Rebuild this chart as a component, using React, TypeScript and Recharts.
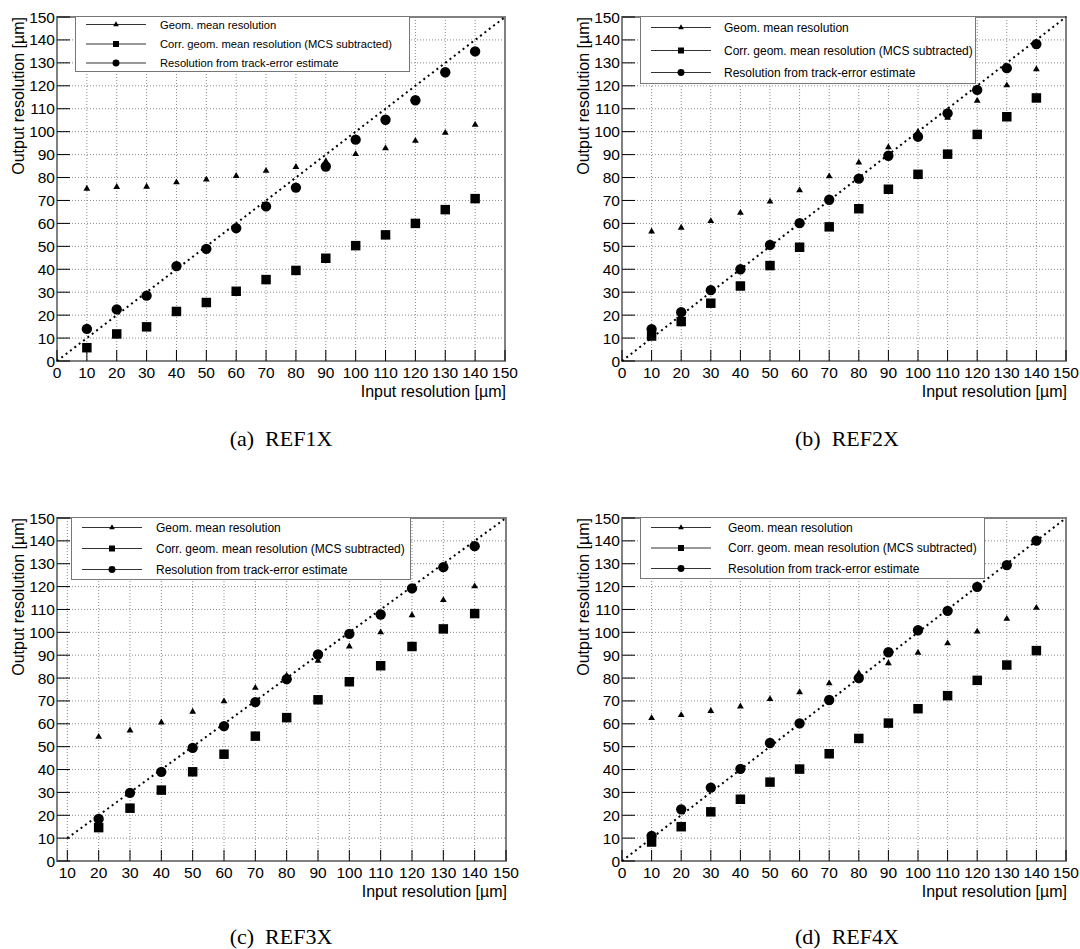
import React from 'react'
import {
  ScatterChart,
  Scatter,
  XAxis,
  YAxis,
  CartesianGrid,
  ReferenceLine,
  ReferenceArea,
  Legend,
  Label,
  Symbols,
} from 'recharts'

// input resolution values (x)
const inputAll = [10, 20, 30, 40, 50, 60, 70, 80, 90, 100, 110, 120, 130, 140]
const inputRef3 = [20, 30, 40, 50, 60, 70, 80, 90, 100, 110, 120, 130, 140]

// REF1X
const geomRef1 = [75.1, 75.9, 76.0, 77.9, 79.1, 80.7, 82.9, 84.6, 87.1, 90.2, 92.8, 96.0, 99.5, 103.0]
const corrRef1 = [5.8, 11.8, 14.9, 21.6, 25.5, 30.4, 35.5, 39.5, 44.8, 50.3, 55.0, 60.0, 66.0, 70.8]
const trackRef1 = [14.0, 22.5, 28.5, 41.4, 48.9, 57.9, 67.4, 75.6, 84.8, 96.5, 105.2, 113.7, 125.9, 135.0]

// REF2X
const geomRef2 = [56.5, 58.1, 61.0, 64.6, 69.5, 74.4, 80.5, 86.5, 93.2, 100.0, 106.1, 113.5, 120.2, 127.2]
const corrRef2 = [10.9, 17.2, 25.2, 32.7, 41.6, 49.6, 58.5, 66.4, 74.9, 81.4, 90.2, 98.8, 106.5, 114.7]
const trackRef2 = [13.9, 21.3, 30.9, 40.0, 50.6, 60.1, 70.3, 79.5, 89.5, 97.8, 108.0, 118.2, 127.7, 138.2]

// REF3X
const geomRef3 = [54.3, 57.1, 60.6, 65.3, 69.8, 75.7, 81.1, 87.6, 93.8, 100.0, 107.5, 114.1, 120.1]
const corrRef3 = [14.6, 23.1, 31.0, 39.0, 46.7, 54.6, 62.7, 70.5, 78.4, 85.4, 93.8, 101.5, 108.2]
const trackRef3 = [18.4, 29.8, 39.0, 49.5, 59.0, 69.5, 79.5, 90.3, 99.3, 107.8, 119.2, 128.5, 137.7]

// REF4X
const geomRef4 = [62.5, 63.8, 65.6, 67.6, 70.8, 73.8, 77.7, 82.1, 86.5, 91.1, 95.2, 100.3, 105.9, 110.7]
const corrRef4 = [8.3, 15.0, 21.5, 27.0, 34.5, 40.2, 46.9, 53.6, 60.3, 66.6, 72.3, 79.0, 85.7, 92.0]
const trackRef4 = [11.0, 22.6, 32.1, 40.3, 51.6, 60.2, 70.4, 80.0, 91.3, 100.9, 109.4, 119.9, 129.4, 140.1]

const xTicksAll = [0, 10, 20, 30, 40, 50, 60, 70, 80, 90, 100, 110, 120, 130, 140, 150]
const xTicksRef3 = [10, 20, 30, 40, 50, 60, 70, 80, 90, 100, 110, 120, 130, 140, 150]
const yTicks = [0, 10, 20, 30, 40, 50, 60, 70, 80, 90, 100, 110, 120, 130, 140, 150]

const legendLabels = [
  'Geom. mean resolution',
  'Corr. geom. mean resolution (MCS subtracted)',
  'Resolution from track-error estimate',
]

const SANS = '"Liberation Sans", Arial, Helvetica, sans-serif'
const AXIS_W = 40
const AXIS_H = 40
const CHART_W = 540
const CHART_H = 470

const panels = [
  {
    caption: '(a)  REF1X', x: inputAll, geom: geomRef1, corr: corrRef1, track: trackRef1,
    xTicks: xTicksAll, xMin: 0,
    ox: 0, oy: 0, left: 57, right: 505, top: 17, bottom: 361, capX: 281, capY: 439,
    legend: { dx: 18, w: 335, h: 56, rows: [9, 28.5, 47.5], font: 11.2, tx: 84 },
  },
  {
    caption: '(b)  REF2X', x: inputAll, geom: geomRef2, corr: corrRef2, track: trackRef2,
    xTicks: xTicksAll, xMin: 0,
    ox: 540, oy: 0, left: 622, right: 1066, top: 17, bottom: 361, capX: 847, capY: 439,
    legend: { dx: 17.5, w: 336, h: 68, rows: [12, 35, 57], font: 12, tx: 83 },
  },
  {
    caption: '(c)  REF3X', x: inputRef3, geom: geomRef3, corr: corrRef3, track: trackRef3,
    xTicks: xTicksRef3, xMin: 6.7,
    ox: 0, oy: 501, left: 57, right: 506, top: 518, bottom: 861, capX: 281, capY: 937,
    legend: { dx: 13.5, w: 340, h: 63, rows: [11, 32, 53], font: 12, tx: 84 },
  },
  {
    caption: '(d)  REF4X', x: inputAll, geom: geomRef4, corr: corrRef4, track: trackRef4,
    xTicks: xTicksAll, xMin: 0,
    ox: 540, oy: 501, left: 622, right: 1066, top: 518, bottom: 861, capX: 847, capY: 937,
    legend: { dx: 17.5, w: 345, h: 62, rows: [11, 31.5, 52], font: 12, tx: 87 },
  },
]

const markerTypes = ['triangle', 'square', 'circle'] as const
const markerSizes = [20, 90, 84]
const legendMarkerSizes = [14, 36, 38]

const makeShape = (i: number) => (p: any) => (
  <Symbols cx={p.cx} cy={p.cy} type={markerTypes[i]} size={markerSizes[i]} fill="#000" stroke="none" />
)

const YTick = (props: any) => {
  const { x, y, payload } = props
  return (
    <g>
      <line x1={x + 2} x2={x + 15} y1={y} y2={y} stroke="#000" strokeWidth={1} />
      <text x={x} y={y} textAnchor="end" dominantBaseline="central" fontSize={15.5} fontFamily={SANS} fill="#000">
        {payload.value}
      </text>
    </g>
  )
}

const XTick = (props: any) => {
  const { x, y, payload } = props
  return (
    <g>
      <line x1={x} x2={x} y1={y - 2} y2={y - 13} stroke="#000" strokeWidth={1} />
      <text x={x} y={y + 9} textAnchor="middle" dominantBaseline="central" fontSize={15.5} fontFamily={SANS} fill="#000">
        {payload.value}
      </text>
    </g>
  )
}

function LegendBox({ cfg }: { cfg: (typeof panels)[number]['legend'] }) {
  const { w, h, rows, font, tx } = cfg
  return (
    <div style={{ width: w, height: h, boxSizing: 'border-box', border: '1.5px solid #777', background: '#fff' }}>
      <svg width={w - 3} height={h - 3} style={{ display: 'block' }}>
        {legendLabels.map((label, i) => (
          <g key={label}>
            <line x1={10} x2={70} y1={rows[i] - 1.5} y2={rows[i] - 1.5} stroke="#333" strokeWidth={1} />
            <Symbols cx={40} cy={rows[i] - 1.5} type={markerTypes[i]} size={legendMarkerSizes[i]} fill="#000" />
            <text x={tx} y={rows[i] - 1.5} dominantBaseline="central" fontSize={font} fontFamily={SANS} fill="#000">
              {label}
            </text>
          </g>
        ))}
      </svg>
    </div>
  )
}

function Panel({ p }: { p: (typeof panels)[number] }) {
  const plotLeft = p.left - p.ox
  const plotRight = p.right - p.ox
  const plotTop = p.top - p.oy
  const plotH = p.bottom - p.top
  const margin = {
    top: plotTop,
    left: plotLeft - AXIS_W,
    right: CHART_W - plotRight,
    bottom: CHART_H - plotTop - plotH - AXIS_H,
  }
  const series = [p.geom, p.corr, p.track].map((vals) => vals.map((v, i) => ({ x: p.x[i], y: v })))

  return (
    <div style={{ position: 'absolute', left: p.ox, top: p.oy, width: CHART_W, height: CHART_H }}>
      <ScatterChart width={CHART_W} height={CHART_H} margin={margin}>
        <CartesianGrid stroke="#8a8a8a" strokeDasharray="1 2" strokeWidth={1} />
        <XAxis
          type="number"
          dataKey="x"
          domain={[p.xMin, 150]}
          ticks={p.xTicks}
          interval={0}
          allowDataOverflow
          height={AXIS_H}
          axisLine={false}
          tickLine={false}
          tickSize={0}
          tickMargin={2}
          tick={<XTick />}
        >
          <Label
            content={(lp: any) => {
              const vb = lp.viewBox || {}
              return (
                <text
                  x={vb.x + vb.width + 1}
                  y={vb.y + 36}
                  textAnchor="end"
                  fontSize={16}
                  fontFamily={SANS}
                  fill="#000"
                >
                  Input resolution [µm]
                </text>
              )
            }}
          />
        </XAxis>
        <YAxis
          type="number"
          dataKey="y"
          domain={[0, 150]}
          ticks={yTicks}
          interval={0}
          allowDataOverflow
          width={AXIS_W}
          axisLine={false}
          tickLine={false}
          tickSize={0}
          tickMargin={2}
          tick={<YTick />}
        >
          <Label
            content={(lp: any) => {
              const vb = lp.viewBox || {}
              const cx = vb.x + vb.width - 39
              const cy = vb.y
              return (
                <text
                  x={cx}
                  y={cy}
                  transform={`rotate(-90, ${cx}, ${cy})`}
                  textAnchor="end"
                  dominantBaseline="central"
                  fontSize={16}
                  fontFamily={SANS}
                  fill="#000"
                >
                  Output resolution [µm]
                </text>
              )
            }}
          />
        </YAxis>
        <ReferenceArea
          x1={p.xMin}
          x2={150}
          y1={0}
          y2={150}
          fill="none"
          fillOpacity={0}
          stroke="#808080"
          strokeWidth={2}
          ifOverflow="visible"
        />
        <ReferenceLine
          segment={[
            { x: p.xTicks[0], y: p.xTicks[0] },
            { x: 150, y: 150 },
          ]}
          stroke="#000"
          strokeWidth={2}
          strokeDasharray="2 3.5"
          ifOverflow="visible"
        />
        {series.map((data, i) => (
          <Scatter
            key={legendLabels[i]}
            name={legendLabels[i]}
            data={data}
            shape={makeShape(i)}
            isAnimationActive={false}
          />
        ))}
        <Legend
          layout="horizontal"
          verticalAlign="middle"
          align="center"
          wrapperStyle={{
            position: 'absolute',
            left: plotLeft + p.legend.dx,
            top: plotTop - 1,
            width: p.legend.w,
            height: p.legend.h,
            margin: 0,
            padding: 0,
          }}
          content={() => <LegendBox cfg={p.legend} />}
        />
      </ScatterChart>
    </div>
  )
}

export default function App() {
  return (
    <div style={{ position: 'absolute', left: 0, top: 0, width: 1080, height: 949, background: '#fff', overflow: 'hidden' }}>
      {panels.map((p) => (
        <Panel key={p.caption} p={p} />
      ))}
      {panels.map((p) => (
        <div
          key={'cap' + p.caption}
          style={{
            position: 'absolute',
            left: p.capX - 100,
            top: p.capY - 13,
            width: 200,
            textAlign: 'center',
            fontFamily: '"Liberation Serif", "Times New Roman", serif',
            fontSize: 22,
            lineHeight: '26px',
            whiteSpace: 'pre',
          }}
        >
          {p.caption}
        </div>
      ))}
    </div>
  )
}
